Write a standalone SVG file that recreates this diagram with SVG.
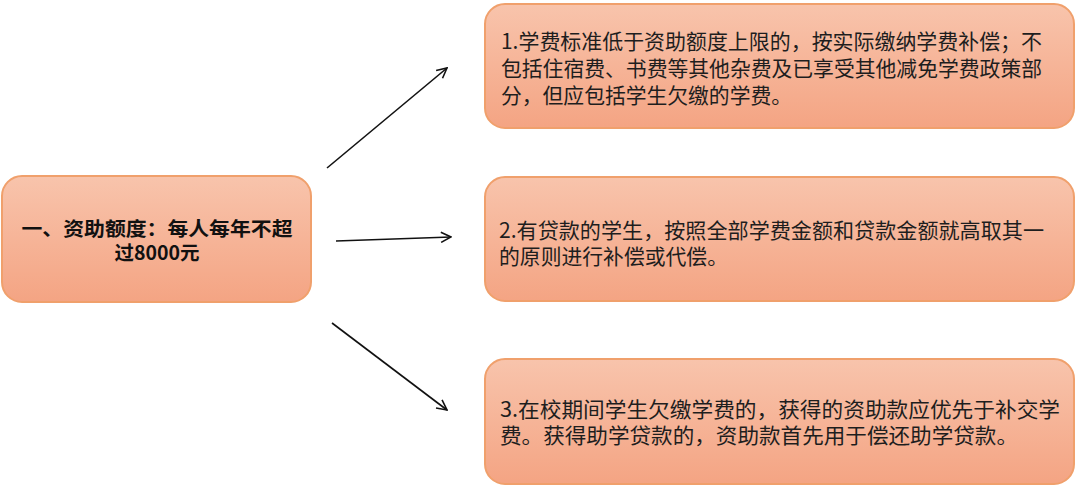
<svg xmlns="http://www.w3.org/2000/svg" width="1080" height="488" viewBox="0 0 1080 488">
<defs>
<linearGradient id="g" x1="0" y1="0" x2="0" y2="1">
<stop offset="0" stop-color="#F8C4AC"/>
<stop offset="1" stop-color="#F4A483"/>
</linearGradient>
<marker id="ah" viewBox="0 0 12 12" refX="11" refY="6" markerWidth="12" markerHeight="12" markerUnits="userSpaceOnUse" orient="auto">
<path d="M1,1 L11,6 L1,11" fill="none" stroke="#111" stroke-width="1.6"/>
</marker>
<style>
.box{fill:url(#g);stroke:#F0A06C;stroke-width:2}
.t{font-family:"Noto Sans CJK SC","Microsoft YaHei",sans-serif;font-size:21px;fill:#1e1e1e}
.b{font-family:"Noto Sans CJK SC","Microsoft YaHei",sans-serif;font-size:19.5px;font-weight:bold;fill:#111}
.c{stroke:#111;stroke-width:1.6;fill:none;marker-end:url(#ah)}
</style>
</defs>
<g id="connectors">
<line class="c" x1="327" y1="168" x2="447" y2="68"/>
<line class="c" x1="336" y1="241" x2="451" y2="237"/>
<line class="c" x1="332" y1="323" x2="447" y2="410"/>
</g>
<g id="node-root">
<rect class="box" x="2" y="176" width="309" height="126" rx="20"/>
<text class="b" x="157" y="236" text-anchor="middle" textLength="271" lengthAdjust="spacingAndGlyphs">一、资助额度：每人每年不超</text>
<text class="b" x="157" y="260" text-anchor="middle">过8000元</text>
</g>
<g id="node-1">
<rect class="box" x="485" y="4" width="589" height="124" rx="20"/>
<text class="t" x="501" y="49" textLength="541" lengthAdjust="spacingAndGlyphs">1.学费标准低于资助额度上限的，按实际缴纳学费补偿；不</text>
<text class="t" x="501" y="76" textLength="541" lengthAdjust="spacingAndGlyphs">包括住宿费、书费等其他杂费及已享受其他减免学费政策部</text>
<text class="t" x="501" y="103" textLength="291" lengthAdjust="spacingAndGlyphs">分，但应包括学生欠缴的学费。</text>
</g>
<g id="node-2">
<rect class="box" x="485" y="177" width="589" height="124" rx="20"/>
<text class="t" x="499" y="238" textLength="545" lengthAdjust="spacingAndGlyphs">2.有贷款的学生，按照全部学费金额和贷款金额就高取其一</text>
<text class="t" x="499" y="264" textLength="229" lengthAdjust="spacingAndGlyphs">的原则进行补偿或代偿。</text>
</g>
<g id="node-3">
<rect class="box" x="485" y="359" width="589" height="125" rx="20"/>
<text class="t" x="500" y="417" textLength="560" lengthAdjust="spacingAndGlyphs">3.在校期间学生欠缴学费的，获得的资助款应优先于补交学</text>
<text class="t" x="500" y="443" textLength="518" lengthAdjust="spacingAndGlyphs">费。获得助学贷款的，资助款首先用于偿还助学贷款。</text>
</g>
</svg>
